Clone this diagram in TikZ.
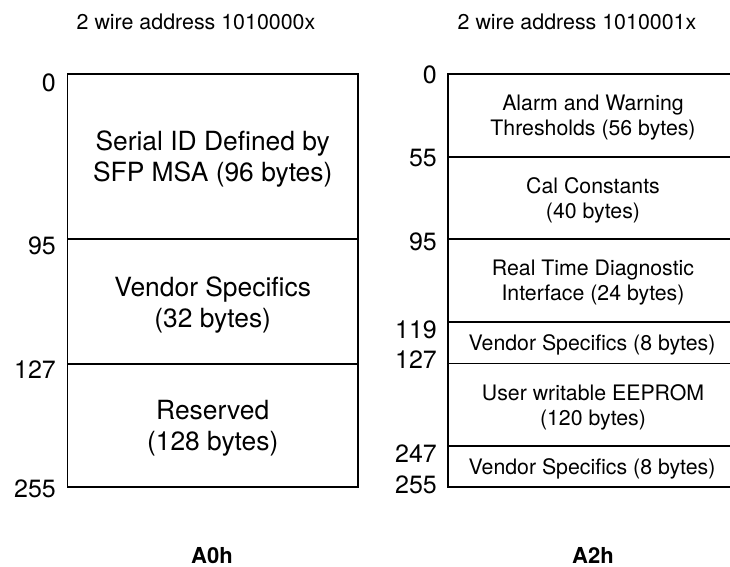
\documentclass[tikz,border=0pt]{standalone}
\usepackage{fontspec}
\setmainfont{TeX Gyre Heros}
\begin{document}
\begin{tikzpicture}[x=1bp,y=-1bp,
  lbl/.style={anchor=base east,inner sep=0pt,font=\fontsize{25bp}{30bp}\selectfont},
  big/.style={anchor=base,inner sep=0pt,font=\fontsize{26.4bp}{31bp}\selectfont},
  small/.style={anchor=base,inner sep=0pt,font=\fontsize{21.3bp}{25bp}\selectfont},
  hdr/.style={anchor=base,inner sep=0pt,font=\fontsize{21.4bp}{25bp}\selectfont},
  ttl/.style={anchor=base,inner sep=0pt,font=\fontsize{22bp}{26bp}\selectfont\bfseries},
  frame/.style={line width=1.9bp,line cap=rect}]
\useasboundingbox (0,0) rectangle (730,567);

% headers
\node[hdr] (hA) at (196,29.5) {2 wire address 1010000x};
\node[hdr] (hB) at (577,29.5) {2 wire address 1010001x};

% left memory map (A0h)
\draw[frame] (67.5,74) rectangle (358,487);
\draw[frame] (67.5,238.7) -- (358,238.7);
\draw[frame] (67.5,363.8) -- (358,363.8);

\node[big] (a1) at (212.7,150.5) {Serial ID Defined by};
\node[big] (a2) at (212.7,181.5) {SFP MSA (96 bytes)};
\node[big] (a3) at (212.7,296.5) {Vendor Specifics};
\node[big] (a4) at (212.7,327.5) {(32 bytes)};
\node[big] (a5) at (212.7,419.5) {Reserved};
\node[big] (a6) at (212.7,450.5) {(128 bytes)};

\node[lbl] (la0) at (56,91.7) {0};
\node[lbl] (la95) at (56,254) {95};
\node[lbl] (la127) at (56,378) {127};
\node[lbl] (la255) at (56,497) {255};

% right memory map (A2h)
\draw[frame] (448,74) rectangle (745,487);
\foreach \yy in {156.6,238.7,322,363.5,445.8}
  \draw[frame] (448,\yy) -- (745,\yy);

\node[small] (b1) at (593,110.8) {Alarm and Warning};
\node[small] (b2) at (593,135.8) {Thresholds (56 bytes)};
\node[small] (b3) at (593,193.3) {Cal Constants};
\node[small] (b4) at (593,218.3) {(40 bytes)};
\node[small] (b5) at (593,275.4) {Real Time Diagnostic};
\node[small] (b6) at (593,300.4) {Interface (24 bytes)};
\node[small] (b7) at (592,350.2) {Vendor Specifics (8 bytes)};
\node[small] (b8) at (593,400.5) {User writable EEPROM};
\node[small] (b9) at (593,425.5) {(120 bytes)};
\node[small] (b10) at (592,474) {Vendor Specifics (8 bytes)};

\node[lbl] (lb0) at (437,83.3) {0};
\node[lbl] (lb55) at (437,167) {55};
\node[lbl] (lb95) at (437,250) {95};
\node[lbl] (lb119) at (437,338) {119};
\node[lbl] (lb127) at (437,368) {127};
\node[lbl] (lb247) at (437,462) {247};
\node[lbl] (lb255) at (437,493) {255};

% titles
\node[ttl] (tA) at (212,563) {A0h};
\node[ttl] (tB) at (593,563) {A2h};
\end{tikzpicture}
\end{document}
